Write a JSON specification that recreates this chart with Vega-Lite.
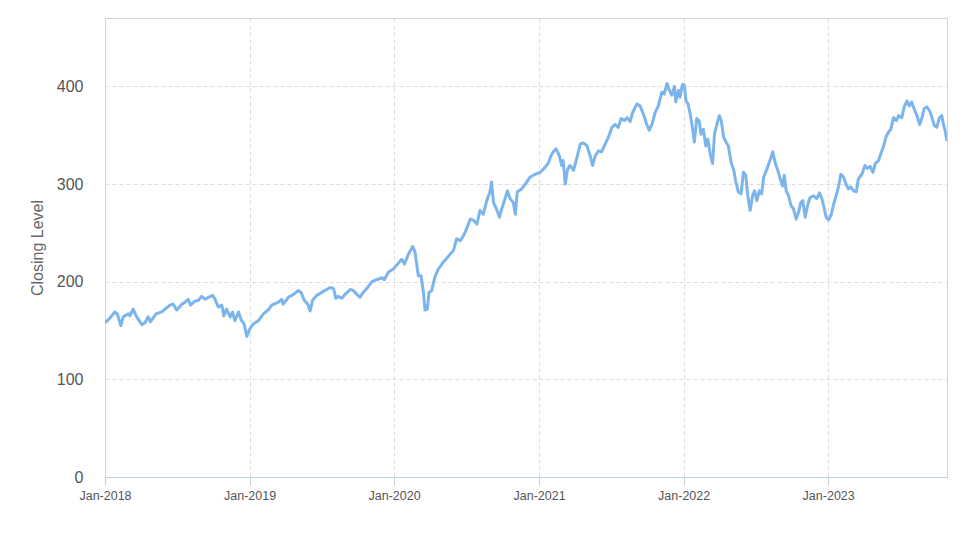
{
  "$schema": "https://vega.github.io/schema/vega-lite/v6.json",
  "autosize": {"type": "none"},
  "width": 842,
  "height": 459,
  "padding": {"left": 105, "top": 18, "right": 26, "bottom": 70},
  "background": "white",
  "config": {
    "view": {"stroke": "#d3d3d3", "strokeWidth": 1},
    "font": "Liberation Sans"
  },
  "data": {"values": [
    {"date": "2018-01-01", "close": 158},
    {"date": "2018-01-04", "close": 159},
    {"date": "2018-01-14", "close": 163},
    {"date": "2018-01-26", "close": 169},
    {"date": "2018-02-01", "close": 167},
    {"date": "2018-02-10", "close": 155},
    {"date": "2018-02-16", "close": 164},
    {"date": "2018-03-01", "close": 167},
    {"date": "2018-03-05", "close": 165},
    {"date": "2018-03-13", "close": 172},
    {"date": "2018-03-22", "close": 164},
    {"date": "2018-04-04", "close": 156},
    {"date": "2018-04-12", "close": 158},
    {"date": "2018-04-20", "close": 164},
    {"date": "2018-04-26", "close": 159},
    {"date": "2018-05-10", "close": 167},
    {"date": "2018-05-24", "close": 169},
    {"date": "2018-06-02", "close": 172},
    {"date": "2018-06-14", "close": 176},
    {"date": "2018-06-22", "close": 177},
    {"date": "2018-07-01", "close": 171},
    {"date": "2018-07-14", "close": 177},
    {"date": "2018-07-22", "close": 179},
    {"date": "2018-07-30", "close": 182},
    {"date": "2018-08-05", "close": 176},
    {"date": "2018-08-16", "close": 180},
    {"date": "2018-08-25", "close": 181},
    {"date": "2018-09-02", "close": 185},
    {"date": "2018-09-11", "close": 182},
    {"date": "2018-09-19", "close": 184},
    {"date": "2018-09-30", "close": 186},
    {"date": "2018-10-06", "close": 182},
    {"date": "2018-10-14", "close": 174},
    {"date": "2018-10-23", "close": 176},
    {"date": "2018-10-28", "close": 165},
    {"date": "2018-11-04", "close": 172},
    {"date": "2018-11-13", "close": 164},
    {"date": "2018-11-19", "close": 169},
    {"date": "2018-11-25", "close": 160},
    {"date": "2018-12-04", "close": 169},
    {"date": "2018-12-12", "close": 160},
    {"date": "2018-12-18", "close": 157},
    {"date": "2018-12-25", "close": 144},
    {"date": "2019-01-02", "close": 152},
    {"date": "2019-01-11", "close": 157},
    {"date": "2019-01-23", "close": 160},
    {"date": "2019-02-05", "close": 167},
    {"date": "2019-02-17", "close": 171},
    {"date": "2019-02-26", "close": 176},
    {"date": "2019-03-15", "close": 179},
    {"date": "2019-03-23", "close": 182},
    {"date": "2019-03-27", "close": 177},
    {"date": "2019-04-09", "close": 184},
    {"date": "2019-04-22", "close": 187},
    {"date": "2019-05-04", "close": 191},
    {"date": "2019-05-11", "close": 189},
    {"date": "2019-05-19", "close": 181},
    {"date": "2019-05-28", "close": 177},
    {"date": "2019-06-03", "close": 170},
    {"date": "2019-06-09", "close": 181},
    {"date": "2019-06-20", "close": 186},
    {"date": "2019-07-02", "close": 189},
    {"date": "2019-07-15", "close": 192},
    {"date": "2019-07-23", "close": 194},
    {"date": "2019-08-01", "close": 193},
    {"date": "2019-08-07", "close": 183},
    {"date": "2019-08-13", "close": 185},
    {"date": "2019-08-22", "close": 183},
    {"date": "2019-08-30", "close": 187},
    {"date": "2019-09-12", "close": 192},
    {"date": "2019-09-20", "close": 191},
    {"date": "2019-09-29", "close": 187},
    {"date": "2019-10-07", "close": 184},
    {"date": "2019-10-15", "close": 189},
    {"date": "2019-10-24", "close": 193},
    {"date": "2019-11-06", "close": 200},
    {"date": "2019-11-18", "close": 202},
    {"date": "2019-12-01", "close": 204},
    {"date": "2019-12-07", "close": 202},
    {"date": "2019-12-18", "close": 210},
    {"date": "2019-12-30", "close": 213},
    {"date": "2020-01-12", "close": 219},
    {"date": "2020-01-20", "close": 223},
    {"date": "2020-01-27", "close": 218},
    {"date": "2020-02-06", "close": 228},
    {"date": "2020-02-17", "close": 236},
    {"date": "2020-02-23", "close": 230},
    {"date": "2020-02-27", "close": 218},
    {"date": "2020-03-02", "close": 206},
    {"date": "2020-03-09", "close": 206},
    {"date": "2020-03-15", "close": 189},
    {"date": "2020-03-19", "close": 171},
    {"date": "2020-03-25", "close": 172},
    {"date": "2020-03-29", "close": 189},
    {"date": "2020-04-05", "close": 191},
    {"date": "2020-04-13", "close": 205},
    {"date": "2020-04-22", "close": 213},
    {"date": "2020-05-04", "close": 220},
    {"date": "2020-05-13", "close": 224},
    {"date": "2020-05-21", "close": 228},
    {"date": "2020-05-30", "close": 232},
    {"date": "2020-06-07", "close": 244},
    {"date": "2020-06-16", "close": 242},
    {"date": "2020-06-24", "close": 247},
    {"date": "2020-07-02", "close": 254},
    {"date": "2020-07-11", "close": 264},
    {"date": "2020-07-19", "close": 263},
    {"date": "2020-07-28", "close": 259},
    {"date": "2020-08-05", "close": 273},
    {"date": "2020-08-13", "close": 269},
    {"date": "2020-08-22", "close": 283},
    {"date": "2020-08-30", "close": 292},
    {"date": "2020-09-03", "close": 302},
    {"date": "2020-09-08", "close": 281},
    {"date": "2020-09-15", "close": 275},
    {"date": "2020-09-23", "close": 266},
    {"date": "2020-09-29", "close": 275},
    {"date": "2020-10-07", "close": 285},
    {"date": "2020-10-13", "close": 293},
    {"date": "2020-10-20", "close": 285},
    {"date": "2020-10-28", "close": 281},
    {"date": "2020-11-02", "close": 269},
    {"date": "2020-11-07", "close": 292},
    {"date": "2020-11-18", "close": 295},
    {"date": "2020-12-01", "close": 302},
    {"date": "2020-12-09", "close": 307},
    {"date": "2020-12-22", "close": 310},
    {"date": "2021-01-04", "close": 312},
    {"date": "2021-01-16", "close": 317},
    {"date": "2021-01-25", "close": 322},
    {"date": "2021-01-31", "close": 329},
    {"date": "2021-02-06", "close": 333},
    {"date": "2021-02-13", "close": 336},
    {"date": "2021-02-21", "close": 329},
    {"date": "2021-02-27", "close": 319},
    {"date": "2021-03-03", "close": 324},
    {"date": "2021-03-08", "close": 300},
    {"date": "2021-03-14", "close": 315},
    {"date": "2021-03-20", "close": 319},
    {"date": "2021-03-29", "close": 314},
    {"date": "2021-04-06", "close": 326},
    {"date": "2021-04-15", "close": 341},
    {"date": "2021-04-23", "close": 342},
    {"date": "2021-05-02", "close": 339},
    {"date": "2021-05-10", "close": 329},
    {"date": "2021-05-16", "close": 319},
    {"date": "2021-05-23", "close": 329},
    {"date": "2021-05-31", "close": 334},
    {"date": "2021-06-08", "close": 333},
    {"date": "2021-06-17", "close": 341},
    {"date": "2021-06-25", "close": 348},
    {"date": "2021-07-04", "close": 358},
    {"date": "2021-07-12", "close": 361},
    {"date": "2021-07-20", "close": 358},
    {"date": "2021-07-27", "close": 367},
    {"date": "2021-08-05", "close": 365},
    {"date": "2021-08-11", "close": 368},
    {"date": "2021-08-19", "close": 364},
    {"date": "2021-08-25", "close": 373},
    {"date": "2021-09-05", "close": 382},
    {"date": "2021-09-13", "close": 380},
    {"date": "2021-09-21", "close": 372},
    {"date": "2021-09-30", "close": 361},
    {"date": "2021-10-06", "close": 355},
    {"date": "2021-10-13", "close": 361},
    {"date": "2021-10-21", "close": 373},
    {"date": "2021-10-29", "close": 380},
    {"date": "2021-11-07", "close": 394},
    {"date": "2021-11-13", "close": 392},
    {"date": "2021-11-20", "close": 403},
    {"date": "2021-11-25", "close": 397},
    {"date": "2021-12-02", "close": 391},
    {"date": "2021-12-09", "close": 400},
    {"date": "2021-12-12", "close": 384},
    {"date": "2021-12-19", "close": 396},
    {"date": "2021-12-23", "close": 389},
    {"date": "2021-12-29", "close": 402},
    {"date": "2022-01-03", "close": 401},
    {"date": "2022-01-07", "close": 385},
    {"date": "2022-01-12", "close": 382},
    {"date": "2022-01-17", "close": 373},
    {"date": "2022-01-23", "close": 358},
    {"date": "2022-01-28", "close": 343},
    {"date": "2022-02-03", "close": 367},
    {"date": "2022-02-09", "close": 365},
    {"date": "2022-02-14", "close": 351},
    {"date": "2022-02-20", "close": 356},
    {"date": "2022-02-26", "close": 339},
    {"date": "2022-03-03", "close": 346},
    {"date": "2022-03-09", "close": 331},
    {"date": "2022-03-15", "close": 321},
    {"date": "2022-03-20", "close": 351},
    {"date": "2022-03-26", "close": 361},
    {"date": "2022-04-01", "close": 370},
    {"date": "2022-04-06", "close": 365},
    {"date": "2022-04-12", "close": 348},
    {"date": "2022-04-18", "close": 343},
    {"date": "2022-04-24", "close": 339},
    {"date": "2022-05-01", "close": 322},
    {"date": "2022-05-07", "close": 315},
    {"date": "2022-05-13", "close": 302},
    {"date": "2022-05-19", "close": 292},
    {"date": "2022-05-26", "close": 290},
    {"date": "2022-06-01", "close": 312},
    {"date": "2022-06-07", "close": 309},
    {"date": "2022-06-12", "close": 288},
    {"date": "2022-06-18", "close": 273},
    {"date": "2022-06-24", "close": 288},
    {"date": "2022-06-29", "close": 293},
    {"date": "2022-07-05", "close": 283},
    {"date": "2022-07-11", "close": 293},
    {"date": "2022-07-17", "close": 290},
    {"date": "2022-07-22", "close": 307},
    {"date": "2022-07-30", "close": 315},
    {"date": "2022-08-07", "close": 324},
    {"date": "2022-08-14", "close": 333},
    {"date": "2022-08-20", "close": 322},
    {"date": "2022-08-26", "close": 315},
    {"date": "2022-09-02", "close": 305},
    {"date": "2022-09-08", "close": 298},
    {"date": "2022-09-12", "close": 309},
    {"date": "2022-09-17", "close": 293},
    {"date": "2022-09-23", "close": 288},
    {"date": "2022-09-29", "close": 278},
    {"date": "2022-10-05", "close": 275},
    {"date": "2022-10-12", "close": 264},
    {"date": "2022-10-18", "close": 271},
    {"date": "2022-10-24", "close": 281},
    {"date": "2022-10-29", "close": 283},
    {"date": "2022-11-04", "close": 266},
    {"date": "2022-11-10", "close": 278},
    {"date": "2022-11-16", "close": 286},
    {"date": "2022-11-25", "close": 288},
    {"date": "2022-12-03", "close": 285},
    {"date": "2022-12-10", "close": 291},
    {"date": "2022-12-16", "close": 285},
    {"date": "2022-12-22", "close": 275},
    {"date": "2022-12-27", "close": 266},
    {"date": "2023-01-02", "close": 263},
    {"date": "2023-01-08", "close": 268},
    {"date": "2023-01-14", "close": 278},
    {"date": "2023-01-21", "close": 288},
    {"date": "2023-01-27", "close": 297},
    {"date": "2023-02-02", "close": 310},
    {"date": "2023-02-09", "close": 307},
    {"date": "2023-02-15", "close": 300},
    {"date": "2023-02-21", "close": 295},
    {"date": "2023-02-27", "close": 297},
    {"date": "2023-03-06", "close": 293},
    {"date": "2023-03-13", "close": 292},
    {"date": "2023-03-18", "close": 305},
    {"date": "2023-03-27", "close": 310},
    {"date": "2023-04-04", "close": 319},
    {"date": "2023-04-10", "close": 316},
    {"date": "2023-04-17", "close": 318},
    {"date": "2023-04-24", "close": 312},
    {"date": "2023-04-30", "close": 321},
    {"date": "2023-05-08", "close": 324},
    {"date": "2023-05-14", "close": 331},
    {"date": "2023-05-21", "close": 339},
    {"date": "2023-05-27", "close": 348},
    {"date": "2023-06-02", "close": 353},
    {"date": "2023-06-08", "close": 356},
    {"date": "2023-06-15", "close": 368},
    {"date": "2023-06-22", "close": 365},
    {"date": "2023-06-28", "close": 370},
    {"date": "2023-07-06", "close": 368},
    {"date": "2023-07-12", "close": 379},
    {"date": "2023-07-19", "close": 385},
    {"date": "2023-07-25", "close": 380},
    {"date": "2023-07-31", "close": 384},
    {"date": "2023-08-06", "close": 377},
    {"date": "2023-08-13", "close": 370},
    {"date": "2023-08-20", "close": 361},
    {"date": "2023-08-26", "close": 368},
    {"date": "2023-08-31", "close": 377},
    {"date": "2023-09-07", "close": 379},
    {"date": "2023-09-14", "close": 375},
    {"date": "2023-09-20", "close": 368},
    {"date": "2023-09-26", "close": 360},
    {"date": "2023-10-02", "close": 358},
    {"date": "2023-10-09", "close": 368},
    {"date": "2023-10-15", "close": 370},
    {"date": "2023-10-19", "close": 361},
    {"date": "2023-10-23", "close": 355},
    {"date": "2023-10-28", "close": 344}
  ]},
  "mark": {"type": "line", "color": "#7cb5ec", "strokeWidth": 3, "strokeJoin": "round", "clip": true},
  "encoding": {
    "x": {
      "field": "date",
      "type": "temporal",
      "scale": {"domain": ["2018-01-01", "2023-10-28"]},
      "axis": {
        "title": null,
        "format": "%b-%Y",
        "tickCount": {"interval": "year", "step": 1},
        "labelFont": "Liberation Sans",
        "labelFontSize": 12.5,
        "labelColor": "#555555",
        "labelPadding": 4,
        "labelFlush": false,
        "tickColor": "#c0d0e0",
        "tickSize": 8,
        "domainColor": "#c0d0e0",
        "grid": true,
        "gridColor": "#dddddd",
        "gridDash": [4, 3],
        "gridWidth": 1
      }
    },
    "y": {
      "field": "close",
      "type": "quantitative",
      "scale": {"domain": [0, 470], "nice": false},
      "axis": {
        "title": "Closing Level",
        "titleFont": "Liberation Sans",
        "titleFontSize": 16,
        "titleFontWeight": "normal",
        "titleColor": "#666666",
        "titlePadding": 11,
        "values": [0, 100, 200, 300, 400],
        "labelFont": "Liberation Sans",
        "labelFontSize": 16,
        "labelColor": "#555555",
        "labelPadding": 22,
        "ticks": false,
        "domainColor": "#d3d3d3",
        "grid": true,
        "gridColor": "#dddddd",
        "gridDash": [4, 3],
        "gridWidth": 1
      }
    }
  }
}
